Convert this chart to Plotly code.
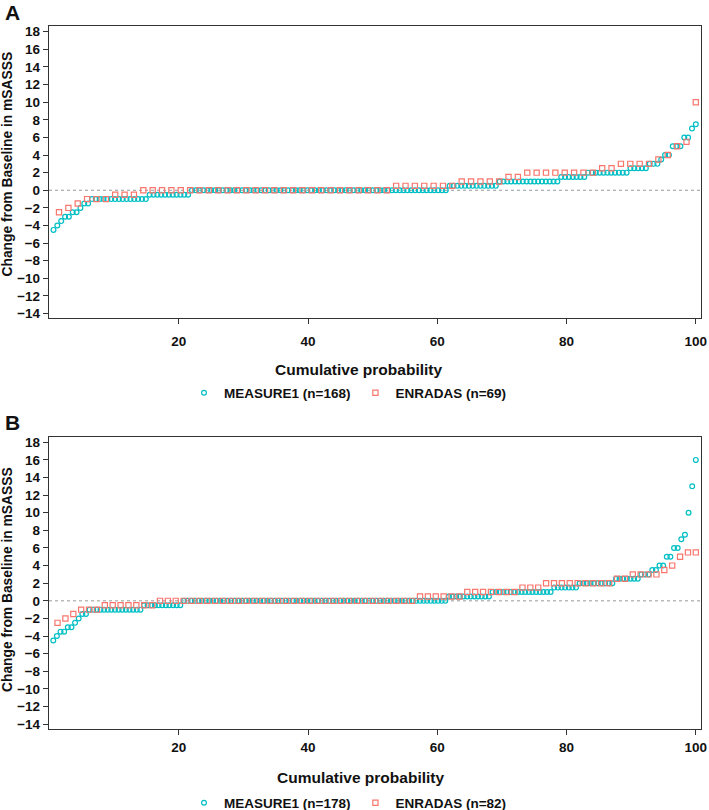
import plotly.graph_objects as go

# ---------------- data (sorted change values, run-length encoded) ----------------
# Panel A
a_measure_vals = [-4.5, -4, -3.5, -3, -2.5, -2, -1.5, -1, -0.5, 0, 0.5, 1, 1.5, 2, 2.5, 3, 3.5, 4, 5, 6, 7, 7.5]
a_measure_counts = [1, 1, 1, 2, 2, 1, 2, 15, 11, 67, 13, 16, 7, 11, 5, 3, 1, 2, 3, 2, 1, 1]
a_enradas_vals = [-2.5, -2, -1.5, -1, -0.5, 0, 0.5, 1, 1.5, 2, 2.5, 3, 3.5, 4, 5, 5.5, 10]
a_enradas_counts = [1, 1, 1, 3, 3, 27, 7, 5, 2, 8, 2, 4, 1, 1, 1, 1, 1]

# Panel B
b_measure_vals = [-4.5, -4, -3.5, -3, -2.5, -2, -1.5, -1, -0.5, 0, 0.5, 1, 1.5, 2, 2.5, 3, 3.5, 4, 5, 6, 7, 7.5, 10, 13, 16]
b_measure_counts = [1, 1, 2, 2, 1, 1, 2, 15, 11, 73, 12, 17, 7, 10, 7, 3, 2, 2, 2, 2, 1, 1, 1, 1, 1]
b_enradas_vals = [-2.5, -2, -1.5, -1, -0.5, 0, 0.5, 1, 1.5, 2, 2.5, 3, 3.5, 4, 5, 5.5]
b_enradas_counts = [1, 1, 1, 3, 7, 33, 6, 7, 3, 9, 2, 4, 1, 1, 1, 2]

x_tick_vals = [20, 40, 60, 80, 100]
y_tick_vals = [-14, -12, -10, -8, -6, -4, -2, 0, 2, 4, 6, 8, 10, 12, 14, 16, 18]

names_a = ["MEASURE1 (n=168)", "ENRADAS (n=69)"]
names_b = ["MEASURE1 (n=178)", "ENRADAS (n=82)"]

TEAL = "#00BFC4"
SALMON = "#F8766D"
FONT = "Liberation Sans, Arial, sans-serif"


def expand(vals, counts):
    out = []
    for v, c in zip(vals, counts):
        out.extend([v] * c)
    return out


def cum_prob(ys):
    n = len(ys)
    return [(i + 1) / n * 100 for i in range(n)]


fig = go.Figure()

series = [
    (a_measure_vals, a_measure_counts, names_a[0], TEAL, "circle-open", 4.8, "x", "y", "legend"),
    (a_enradas_vals, a_enradas_counts, names_a[1], SALMON, "square-open", 5.2, "x", "y", "legend"),
    (b_measure_vals, b_measure_counts, names_b[0], TEAL, "circle-open", 4.8, "x2", "y2", "legend2"),
    (b_enradas_vals, b_enradas_counts, names_b[1], SALMON, "square-open", 5.2, "x2", "y2", "legend2"),
]
for vals, counts, name, color, sym, size, xa, ya, lg in series:
    ys = expand(vals, counts)
    fig.add_trace(go.Scatter(
        x=cum_prob(ys), y=ys, mode="markers", name=name,
        marker=dict(symbol=sym, size=size, color=color, line=dict(width=1.2, color=color)),
        xaxis=xa, yaxis=ya, legend=lg,
    ))

# pixel-based layout helpers
W, H = 709, 810
ML, MR, MT, MB = 49, 8, 26, 81
PW, PH = W - ML - MR, H - MT - MB


def fx(px):
    return (px - ML) / PW


def fy(py):
    return (H - MB - py) / PH


axis_common = dict(
    showline=True, linecolor="#333333", linewidth=1.4, mirror=True,
    ticks="outside", ticklen=5, tickwidth=1, tickcolor="#333333",
    showgrid=False, zeroline=False,
    tickfont=dict(family=FONT, size=13.5, color="#111111", weight="bold"),
)

fig.update_layout(
    width=W, height=H,
    margin=dict(l=ML, r=MR, t=MT, b=MB, autoexpand=False),
    paper_bgcolor="white", plot_bgcolor="white",
    font=dict(family=FONT, color="#111111"),
    xaxis=dict(domain=[0, 1], anchor="y", range=[-0.1, 100.8], tickvals=x_tick_vals,
               ticklabelstandoff=6, **axis_common),
    yaxis=dict(domain=[fy(318), 1], anchor="x", range=[-14.5, 18.65], tickvals=y_tick_vals,
               **axis_common),
    xaxis2=dict(domain=[0, 1], anchor="y2", range=[-0.1, 100.8], tickvals=x_tick_vals,
                ticklabelstandoff=1, **axis_common),
    yaxis2=dict(domain=[0, fy(437)], anchor="x2", range=[-14.55, 18.6], tickvals=y_tick_vals,
                **axis_common),
    legend=dict(orientation="h", x=fx(184), xanchor="left", y=fy(393), yanchor="middle",
                font=dict(family=FONT, size=13.5, weight="bold"), bgcolor="rgba(0,0,0,0)"),
    legend2=dict(orientation="h", x=fx(184), xanchor="left", y=fy(803), yanchor="middle",
                 font=dict(family=FONT, size=13.5, weight="bold"), bgcolor="rgba(0,0,0,0)"),
)

# dotted zero reference lines
for xr, yr in [("x domain", "y"), ("x2 domain", "y2")]:
    fig.add_shape(type="line", xref=xr, yref=yr, x0=0, x1=1, y0=0, y1=0,
                  line=dict(color="#999999", width=1, dash="dot"), layer="below")

annots = [
    dict(text="A", x=fx(12), y=fy(13), size=21, angle=0),
    dict(text="B", x=fx(12), y=fy(422), size=21, angle=0),
    dict(text="Change from Baseline in mSASSS", x=fx(7), y=fy(164.5), size=13.8, angle=-90),
    dict(text="Change from Baseline in mSASSS", x=fx(7), y=fy(580), size=13.8, angle=-90),
    dict(text="Cumulative probability", x=fx(358), y=fy(369), size=15.5, angle=0),
    dict(text="Cumulative probability", x=fx(360), y=fy(777), size=15.5, angle=0),
]
for a in annots:
    fig.add_annotation(text=a["text"], x=a["x"], y=a["y"], xref="paper", yref="paper",
                       showarrow=False, xanchor="center", yanchor="middle", textangle=a["angle"],
                       font=dict(family=FONT, size=a["size"], color="#111111", weight="bold"))

fig.write_html(
    "out.html",
    config={"displayModeBar": False},
    post_script="document.body.style.margin='0';document.body.style.overflow='hidden';",
)
